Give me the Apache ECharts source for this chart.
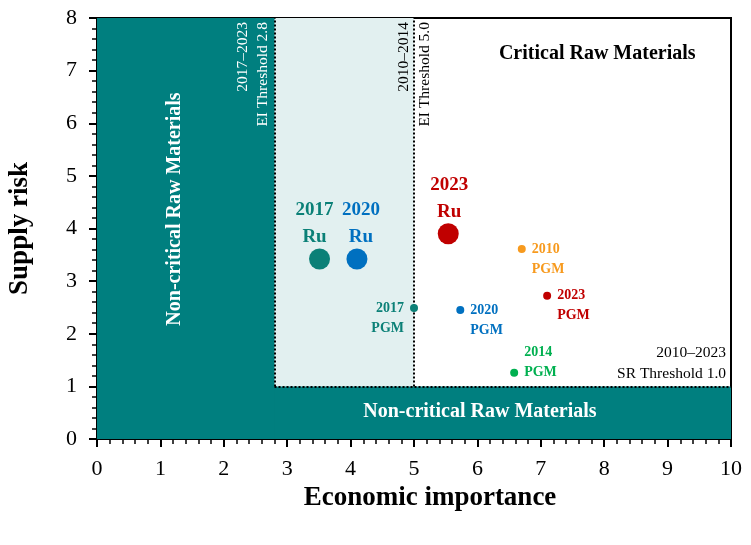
<!DOCTYPE html>
<html>
<head>
<meta charset="utf-8">
<script src="https://cdn.jsdelivr.net/npm/echarts@6/dist/echarts.min.js"></script>
<style>
  html, body { margin: 0; padding: 0; background: #fff; }
  #main { width: 751px; height: 545px; }
</style>
</head>
<body>
<div id="main"></div>
<script>
// Ru (bubbles)
const ruYears = ['2017', '2020', '2023'];
const ruEI = [3.51, 4.1, 5.54];
const ruSR = [3.42, 3.42, 3.9];

// PGM (small dots)
const pgmYears = ['2010', '2014', '2017', '2020', '2023'];
const pgmEI = [6.7, 6.58, 5.0, 5.73, 7.1];
const pgmSR = [3.61, 1.26, 2.49, 2.45, 2.72];

// thresholds
const eiThreshold2017 = 2.8;
const eiThreshold2010 = 5.0;
const srThreshold = 1.0;
const xMax = 10;
const yMax = 8;

const xTicks = [0, 1, 2, 3, 4, 5, 6, 7, 8, 9, 10];
const yTicks = [0, 1, 2, 3, 4, 5, 6, 7, 8];

const yearColor = {
  '2010': '#F79A1E',
  '2014': '#00B050',
  '2017': '#0B8077',
  '2020': '#0070C0',
  '2023': '#C00000',
};
const teal = '#007F7F';
const lightTeal = '#E2F0F0';
const serif = '"Liberation Serif", "DejaVu Serif", serif';

const chart = echarts.init(document.getElementById('main'));

// Ru labels are nudged apart so 2017 / 2020 don't collide
const ruLabelShift = { '2017': [-5, 0], '2020': [4, 0], '2023': [1, 0] };

const ruData = ruYears.map((y, i) => ({
  name: y,
  value: [ruEI[i], ruSR[i]],
  itemStyle: { color: yearColor[y], opacity: 1 },
  label: { color: yearColor[y], offset: ruLabelShift[y] },
}));

// label placement for the small dots
const pgmLabelPos = {
  '2010': { position: 'right', offset: [0, 10] },
  '2014': { position: 'right', offset: [0, -10] },
  '2017': { position: 'left', offset: [0, 10] },
  '2020': { position: 'right', offset: [0, 10] },
  '2023': { position: 'right', offset: [0, 10] },
};

const pgmData = pgmYears.map((y, i) => ({
  name: y,
  value: [pgmEI[i], pgmSR[i]],
  itemStyle: { color: yearColor[y], opacity: 1 },
  label: Object.assign({ color: yearColor[y] }, pgmLabelPos[y]),
}));

const dotted = { color: '#000', type: [2, 2], width: 2 };

const option = {
  animation: false,
  backgroundColor: '#fff',
  grid: {
    left: 97, right: 20, top: 18, bottom: 106,
    outerBoundsMode: 'none',
    show: true, borderColor: '#000', borderWidth: 2, backgroundColor: 'transparent',
  },
  xAxis: {
    type: 'value', min: 0, max: xMax, interval: 1,
    name: 'Economic importance', nameLocation: 'middle', nameGap: 43,
    nameTextStyle: { fontFamily: serif, fontWeight: 'bold', fontSize: 27, color: '#000', padding: [0, 0, 0, 32] },
    axisLine: { lineStyle: { color: '#000', width: 2 } },
    axisTick: { show: true, inside: false, length: 8, lineStyle: { color: '#000', width: 2 } },
    minorTick: { show: true, splitNumber: 5, length: 5, lineStyle: { color: '#000', width: 1.5 } },
    axisLabel: {
      fontFamily: serif, fontSize: 22, color: '#000', margin: 19,
      formatter: v => (xTicks.indexOf(v) >= 0 ? String(v) : ''),
    },
    splitLine: { show: false },
  },
  yAxis: {
    type: 'value', min: 0, max: yMax, interval: 1,
    name: 'Supply risk', nameLocation: 'middle', nameGap: 63,
    nameTextStyle: { fontFamily: serif, fontWeight: 'bold', fontSize: 27, color: '#000' },
    axisLine: { lineStyle: { color: '#000', width: 2 } },
    axisTick: { show: true, inside: false, length: 8, lineStyle: { color: '#000', width: 2 } },
    minorTick: { show: true, splitNumber: 5, length: 5, lineStyle: { color: '#000', width: 1.5 } },
    axisLabel: {
      fontFamily: serif, fontSize: 22, color: '#000', margin: 20,
      formatter: v => (yTicks.indexOf(v) >= 0 ? String(v) : ''),
    },
    splitLine: { show: false },
  },
  series: [
    {
      name: 'Ru',
      type: 'scatter',
      symbolSize: 21,
      z: 5,
      data: ruData,
      label: {
        show: true, position: 'top', distance: -2,
        fontFamily: serif, fontWeight: 'bold', fontSize: 19, lineHeight: 27,
        align: 'center',
        formatter: p => p.name + '\nRu',
      },
      emphasis: { disabled: true },
      markArea: {
        silent: true,
        z: 1,
        label: { show: false },
        data: [
          [{ coord: [eiThreshold2017, srThreshold], itemStyle: { color: lightTeal } }, { coord: [eiThreshold2010, yMax] }],
          [{ coord: [0, 0], itemStyle: { color: teal } }, { coord: [xMax, srThreshold] }],
          [{ coord: [0, 0], itemStyle: { color: teal } }, { coord: [eiThreshold2017, yMax] }],
        ],
      },
      markLine: {
        silent: true,
        symbol: 'none',
        z: 3,
        label: { show: false },
        lineStyle: dotted,
        data: [
          [{ coord: [eiThreshold2017, srThreshold] }, { coord: [eiThreshold2017, yMax] }],
          [{ coord: [eiThreshold2010, srThreshold] }, { coord: [eiThreshold2010, yMax] }],
          [{ coord: [eiThreshold2017, srThreshold] }, { coord: [xMax, srThreshold] }],
        ],
      },
    },
    {
      name: 'PGM',
      type: 'scatter',
      symbolSize: 8,
      z: 5,
      data: pgmData,
      emphasis: { disabled: true },
      label: {
        show: true, distance: 6,
        fontFamily: serif, fontWeight: 'bold', fontSize: 14, lineHeight: 20,
        formatter: p => p.name + '\nPGM',
      },
    },
  ],
};

chart.setOption(option);

// annotation texts, anchored in data space
const px = c => chart.convertToPixel({ gridIndex: 0 }, c);
function txt(text, at, opt) {
  const p = px(at);
  return {
    type: 'text', x: p[0] + (opt.dx || 0), y: p[1] + (opt.dy || 0), rotation: opt.rot || 0, z: 10,
    style: {
      text: text, fill: opt.color || '#000', font: opt.font,
      align: opt.align || 'center', verticalAlign: opt.va || 'middle', lineHeight: opt.lh,
    },
  };
}
const boldRegion = 'bold 20px ' + serif;
const note = '15.5px ' + serif;

chart.setOption({
  graphic: [
    txt('Non-critical Raw Materials', [1.23, 4.37], { rot: Math.PI / 2, color: '#fff', font: boldRegion }),
    txt('Non-critical Raw Materials', [6.04, 0.51], { color: '#fff', font: boldRegion }),
    txt('Critical Raw Materials', [7.89, 7.32], { color: '#000', font: boldRegion }),
    txt('2017–2023\nEI Threshold 2.8', [eiThreshold2017, yMax], {
      rot: Math.PI / 2, color: '#fff', font: note, align: 'right', va: 'bottom', lh: 20, dx: -2, dy: 4,
    }),
    txt('2010–2014\nEI Threshold 5.0', [eiThreshold2010, yMax], {
      rot: Math.PI / 2, color: '#000', font: note, align: 'right', va: 'middle', lh: 21, dy: 4,
    }),
    txt('2010–2023\nSR Threshold 1.0', [xMax, srThreshold], {
      color: '#000', font: note, align: 'right', va: 'bottom', lh: 21, dx: -5, dy: -2,
    }),
  ],
});
</script>
</body>
</html>
